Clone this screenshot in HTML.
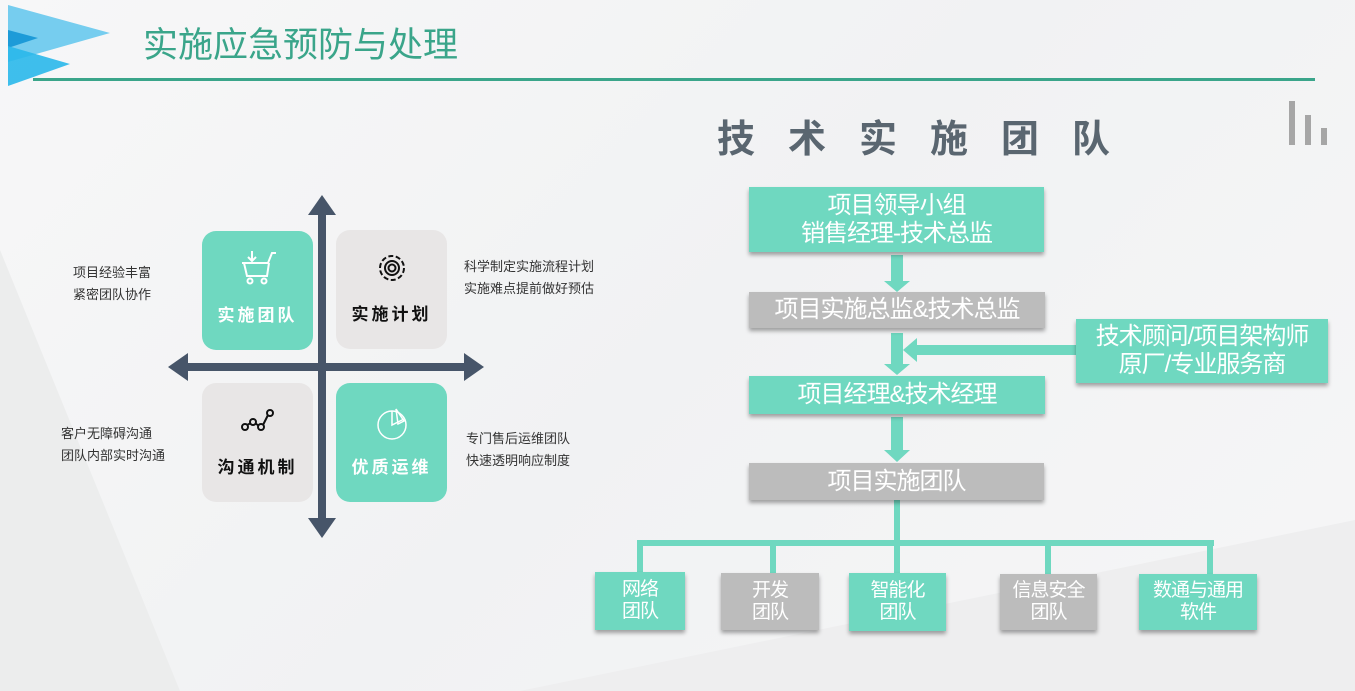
<!DOCTYPE html>
<html><head><meta charset="utf-8"><style>
*{margin:0;padding:0;box-sizing:border-box}
body{width:1355px;height:691px;overflow:hidden;position:relative;background:linear-gradient(135deg,#f7f7f8 0%,#f1f2f3 50%,#f6f6f7 100%);font-family:"Liberation Sans","Noto Sans CJK SC",sans-serif}
.a{position:absolute}
.box{position:absolute;display:flex;align-items:center;justify-content:center;text-align:center;color:#fff;box-shadow:0 3px 4px rgba(0,0,0,.35);line-height:1.15;letter-spacing:-1px}
.t{background:#6fd8c0}.g{background:#bcbcbc}
.q{position:absolute;width:111px;height:119px;border-radius:14px;display:flex;flex-direction:column;align-items:center;justify-content:flex-end;padding-bottom:24px;font-weight:bold;font-size:17px;letter-spacing:3px}
.s{position:absolute;font-size:13px;color:#333;line-height:22px}
</style></head><body>
<svg class="a" style="left:0;top:0" width="1355" height="691">
<polygon points="0,250 180,691 0,691" fill="#eceded"/>
<polygon points="520,691 1355,520 1355,691" fill="#eeeeef"/>
<polygon points="8,5 110,33 8,62" fill="#76cdef"/>
<polygon points="8,30 38,38 8,48" fill="#1d9bd8"/>
<polygon points="8,46 70,64 8,86" fill="#2ab8ea" opacity=".9"/>
<rect x="33" y="78" width="1282" height="3" fill="#3aa58a"/>
<rect x="1289" y="101" width="6" height="44" fill="#a6a6a6"/>
<rect x="1305" y="115" width="6" height="30" fill="#a6a6a6"/>
<rect x="1321" y="128" width="6" height="17" fill="#a6a6a6"/>
<g fill="#475569">
<rect x="318" y="212" width="8" height="310"/>
<polygon points="322,195 308,215 336,215"/>
<polygon points="322,538 308,518 336,518"/>
<rect x="185" y="363" width="282" height="8"/>
<polygon points="168,367 188,353 188,381"/>
<polygon points="484,367 464,353 464,381"/>
</g>
<g fill="#6fd8c0">
<rect x="891" y="255" width="12" height="28"/><polygon points="884,281 910,281 897,292"/>
<rect x="891" y="333" width="12" height="33"/><polygon points="884,364 910,364 897,375"/>
<rect x="915" y="345" width="161" height="10"/><polygon points="903,350 917,338 917,362"/>
<rect x="891" y="417" width="12" height="35"/><polygon points="884,450 910,450 897,462"/>
<rect x="894" y="500" width="6" height="45"/>
<rect x="637" y="540" width="577" height="6"/>
<rect x="637" y="540" width="6" height="32"/>
<rect x="770" y="540" width="6" height="33"/>
<rect x="894" y="540" width="6" height="33"/>
<rect x="1045" y="540" width="6" height="34"/>
<rect x="1207" y="540" width="6" height="34"/>
</g>
</svg>
<div class="a" style="left:143px;top:17px;font-size:35px;color:#3aa58a">实施应急预防与处理</div>
<div class="a" style="left:717px;top:108px;font-size:38px;font-weight:bold;color:#5a6670;letter-spacing:33px">技术实施团队</div>

<div class="q" style="left:202px;top:231px;background:#6fd8c0;color:#fff">
<svg width="40" height="36" viewBox="0 0 40 36" style="margin-bottom:14px" fill="none" stroke="#fff" stroke-width="2"><path d="M14 0v9M10 6l4 4 4-4"/><path d="M4 12h26l4-10h4"/><path d="M6 12l3 13h20l2-13"/><circle cx="12" cy="30" r="2.5"/><circle cx="26" cy="30" r="2.5"/></svg>实施团队</div>
<div class="q" style="left:336px;top:230px;background:#e8e6e6;color:#111">
<svg width="36" height="36" viewBox="0 0 36 36" style="margin-bottom:14px" fill="none" stroke="#111" stroke-width="2"><circle cx="18" cy="18" r="12" stroke-dasharray="5 2.5"/><circle cx="18" cy="18" r="7"/><circle cx="18" cy="18" r="3.5"/></svg>实施计划</div>
<div class="q" style="left:202px;top:383px;background:#e8e6e6;color:#111">
<svg width="36" height="30" viewBox="0 0 36 30" style="margin-bottom:16px" fill="none" stroke="#111" stroke-width="2"><circle cx="5" cy="20" r="3"/><circle cx="13" cy="15" r="3"/><circle cx="21" cy="20" r="3"/><circle cx="30" cy="6" r="3"/><path d="M7 18l4-2M15 16l4 3M23 18l5-10"/></svg>沟通机制</div>
<div class="q" style="left:336px;top:383px;background:#6fd8c0;color:#fff">
<svg width="36" height="36" viewBox="0 0 36 36" style="margin-bottom:12px" fill="none" stroke="#fff" stroke-width="1.5"><circle cx="18" cy="20" r="14"/><path d="M18 6v14l12-6"/><path d="M22 4l8 12-6 3z"/></svg>优质运维</div>

<div class="s" style="left:73px;top:262px">项目经验丰富<br>紧密团队协作</div>
<div class="s" style="left:61px;top:423px">客户无障碍沟通<br>团队内部实时沟通</div>
<div class="s" style="left:464px;top:256px">科学制定实施流程计划<br>实施难点提前做好预估</div>
<div class="s" style="left:466px;top:428px">专门售后运维团队<br>快速透明响应制度</div>

<div class="box t" style="left:749px;top:187px;width:295px;height:65px;font-size:24px">项目领导小组<br>销售经理-技术总监</div>
<div class="box g" style="left:749px;top:292px;width:296px;height:36px;font-size:24px">项目实施总监&amp;技术总监</div>
<div class="box t" style="left:1076px;top:319px;width:252px;height:64px;font-size:24px">技术顾问/项目架构师<br>原厂/专业服务商</div>
<div class="box t" style="left:749px;top:376px;width:296px;height:38px;font-size:24px">项目经理&amp;技术经理</div>
<div class="box g" style="left:749px;top:463px;width:295px;height:37px;font-size:24px">项目实施团队</div>

<div class="box t" style="left:595px;top:572px;width:90px;height:58px;font-size:19px">网络<br>团队</div>
<div class="box g" style="left:721px;top:573px;width:98px;height:57px;font-size:19px">开发<br>团队</div>
<div class="box t" style="left:849px;top:573px;width:97px;height:58px;font-size:19px">智能化<br>团队</div>
<div class="box g" style="left:1000px;top:574px;width:97px;height:56px;font-size:19px">信息安全<br>团队</div>
<div class="box t" style="left:1139px;top:574px;width:118px;height:56px;font-size:19px">数通与通用<br>软件</div>
</body></html>
